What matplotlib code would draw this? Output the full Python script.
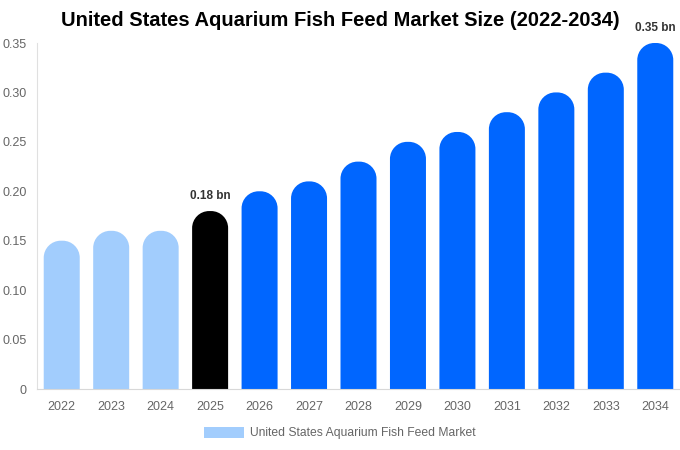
import matplotlib
matplotlib.use("Agg")
import matplotlib.pyplot as plt
from matplotlib.path import Path
from matplotlib.patches import PathPatch, Patch
import numpy as np

plt.rcParams['font.family'] = ['Liberation Sans', 'DejaVu Sans']

years = ['2022', '2023', '2024', '2025', '2026', '2027', '2028',
         '2029', '2030', '2031', '2032', '2033', '2034']
values = [0.15, 0.16, 0.16, 0.18, 0.20, 0.21, 0.23, 0.25, 0.26, 0.28, 0.30, 0.32, 0.35]
labels = {3: '0.18 bn', 12: '0.35 bn'}

light = '#a2cdfd'
black = '#000000'
blue = '#0066ff'
colors = [light] * 3 + [black] + [blue] * 9

W, H = 680, 450
fig = plt.figure(figsize=(W / 100, H / 100), dpi=100)
ax_l, ax_r, ax_b, ax_t = 37, 680, 389, 43
ax = fig.add_axes([ax_l / W, (H - ax_b) / H, (ax_r - ax_l) / W, (ax_b - ax_t) / H])

n = len(years)
xmin, xmax = -0.5, n - 0.5
ymin, ymax = 0, 0.35
ax.set_xlim(xmin, xmax)
ax.set_ylim(ymin, ymax)

px_x = (ax_r - ax_l) / (xmax - xmin)
px_y = (ax_b - ax_t) / (ymax - ymin)
bw = 36 / px_x
rad = 17
rx = rad / px_x
ry = rad / px_y
k = 0.5523


def rounded_bar(xc, h, color):
    x0, x1 = xc - bw / 2, xc + bw / 2
    verts = [(x0, 0), (x0, h - ry),
             (x0, h - ry + k * ry), (x0 + rx - k * rx, h), (x0 + rx, h),
             (x1 - rx, h),
             (x1 - rx + k * rx, h), (x1, h - ry + k * ry), (x1, h - ry),
             (x1, 0), (x0, 0)]
    codes = [Path.MOVETO, Path.LINETO,
             Path.CURVE4, Path.CURVE4, Path.CURVE4,
             Path.LINETO,
             Path.CURVE4, Path.CURVE4, Path.CURVE4,
             Path.LINETO, Path.CLOSEPOLY]
    ax.add_patch(PathPatch(Path(verts, codes), facecolor=color, edgecolor='none'))


for i, v in enumerate(values):
    rounded_bar(i, v, colors[i])
    if i in labels:
        ax.text(i, v + 9 / px_y, labels[i], ha='center', va='bottom',
                fontsize=8.5, fontweight='bold', color='#333333')

ax.set_xticks(range(n))
ax.set_xticklabels(years)
ax.set_yticks([0, 0.05, 0.10, 0.15, 0.20, 0.25, 0.30, 0.35])
ax.set_yticklabels(['0', '0.05', '0.10', '0.15', '0.20', '0.25', '0.30', '0.35'])
ax.tick_params(axis='both', length=0, labelsize=9, colors='#666666')
ax.tick_params(axis='x', pad=9)
ax.tick_params(axis='y', pad=7.5)
for s in ['top', 'right']:
    ax.spines[s].set_visible(False)
ax.spines['left'].set_color('#e0e0e0')
ax.spines['bottom'].set_color('#d8d8d8')

fig.suptitle('United States Aquarium Fish Feed Market Size (2022-2034)',
             x=340 / W, y=1 - 21 / H, va='center', fontsize=14.5, fontweight='bold')

fig.legend(handles=[Patch(facecolor=light, edgecolor='none',
                          label='United States Aquarium Fish Feed Market')],
           loc='center', bbox_to_anchor=(340 / W, 1 - 433 / H), frameon=False,
           fontsize=8.7, labelcolor='#666666', handlelength=3.3, handleheight=1.0,
           handletextpad=0.5)

fig.savefig('out.png', dpi=100)
